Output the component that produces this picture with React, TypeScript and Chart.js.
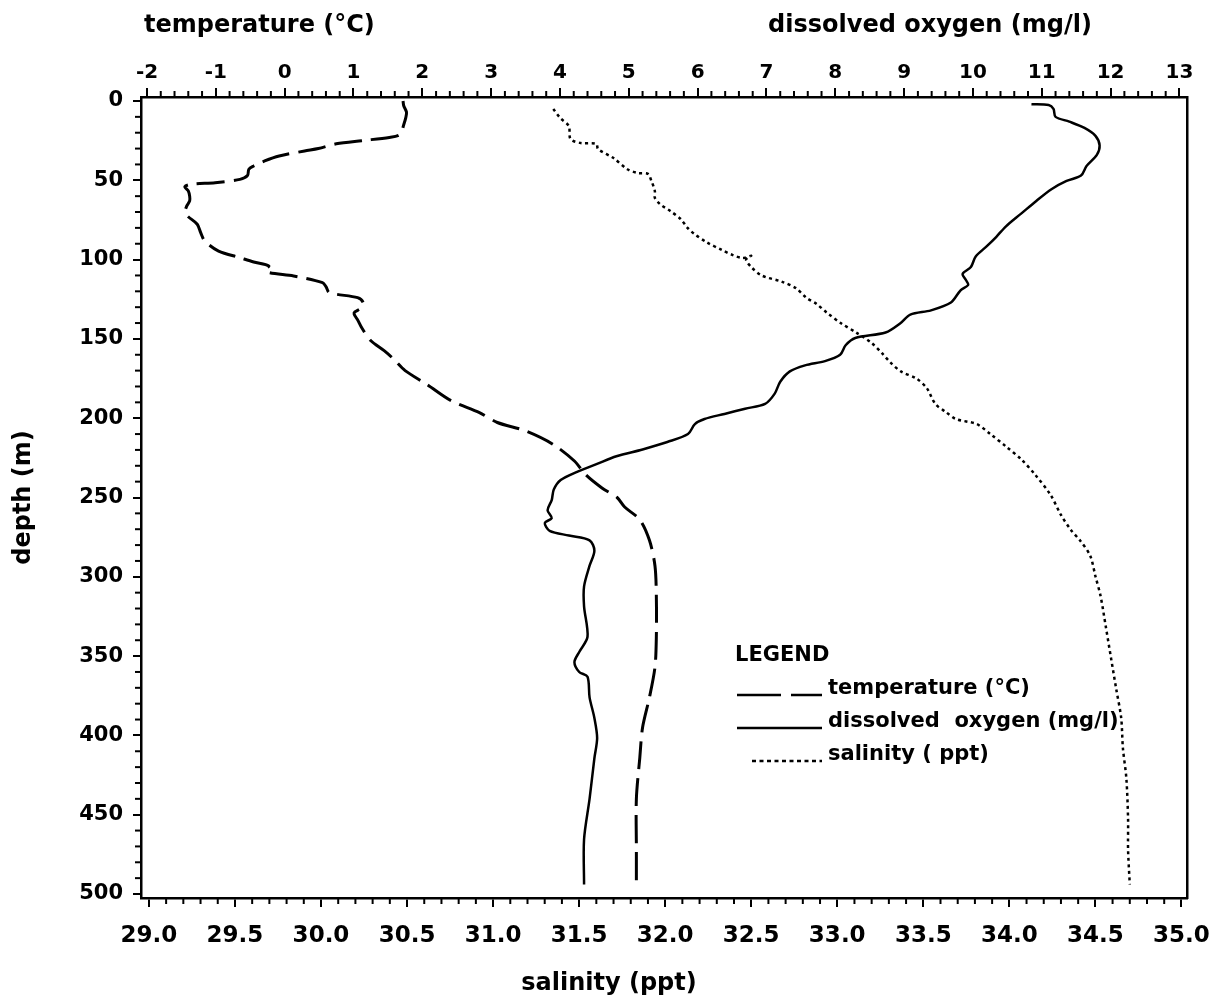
import React, { useEffect, useRef } from "react";
import { Chart, registerables } from "chart.js";

Chart.register(...registerables);

// ---- tick labels ----
const temperatureTicks = [-2, -1, 0, 1, 2, 3, 4, 5, 6, 7, 8, 9, 10, 11, 12, 13];
const salinityTicks = [29.0, 29.5, 30.0, 30.5, 31.0, 31.5, 32.0, 32.5, 33.0, 33.5, 34.0, 34.5, 35.0];
const depthTicks = [0, 50, 100, 150, 200, 250, 300, 350, 400, 450, 500];

// ---- temperature (°C) profile ----
const temperatureDepth = [
  0, 3, 7, 10.5, 15, 21, 23, 25, 27, 30, 31.5, 34.7, 37.8, 41, 43, 47, 49.4, 51.5, 52.5, 54,
  56.7, 60, 63, 66, 70.4, 73, 77.7, 83, 88.3, 94.6, 98.8, 101.5, 104, 106, 108.2, 110.3, 114.5,
  117, 120.8, 124, 127, 130.3, 133, 134.5, 138, 143, 151, 157.6, 163, 170, 178.5, 189, 196.5,
  202.7, 208, 216.5, 227, 235.5, 244, 250, 256, 264, 277, 293, 312, 338, 357, 376, 395, 414,
  440, 472, 494,
];
const temperatureValues = [
  1.72, 1.73, 1.77, 1.76, 1.73, 1.68, 1.52, 1.12, 0.75, 0.49, 0.29, -0.08, -0.29, -0.45, -0.52,
  -0.54, -0.65, -1.01, -1.35, -1.45, -1.40, -1.38, -1.38, -1.42, -1.45, -1.40, -1.27, -1.22,
  -1.16, -0.96, -0.65, -0.45, -0.23, -0.28, -0.23, 0.13, 0.55, 0.60, 0.65, 1.06, 1.14, 1.12,
  1.02, 1.01, 1.06, 1.12, 1.25, 1.45, 1.59, 1.75, 2.06, 2.42, 2.83, 3.09, 3.50, 3.90, 4.21,
  4.37, 4.61, 4.83, 4.94, 5.16, 5.30, 5.38, 5.40, 5.40, 5.38, 5.30, 5.20, 5.16, 5.11, 5.11, 5.11,
];

// ---- dissolved oxygen (mg/l) profile ----
const oxygenDepth = [
  2, 2.5, 5, 10, 13, 17, 22, 28, 34, 41, 47, 50.4, 55.6, 63, 71, 79, 85.6, 92, 98, 104.7, 109,
  113, 116, 119.4, 127, 132, 134.7, 140, 146, 149.4, 154, 160, 164, 166.7, 170.5, 177, 184.5,
  191, 194, 197.3, 200.5, 203.7, 210, 215, 219.7, 224, 229, 234, 239, 245, 251.6, 258, 263,
  266, 271, 274, 277, 283.5, 293, 306, 318.6, 337.8, 347.4, 353.8, 360, 363, 376, 389, 401.7,
  414.4, 440, 465.5, 494,
];
const oxygenValues = [
  10.85, 11.1, 11.17, 11.2, 11.4, 11.62, 11.78, 11.84, 11.8, 11.65, 11.57, 11.36, 11.14, 10.92,
  10.7, 10.48, 10.34, 10.19, 10.04, 9.97, 9.85, 9.9, 9.93, 9.82, 9.68, 9.39, 9.09, 8.95, 8.73,
  8.29, 8.15, 8.07, 7.85, 7.56, 7.34, 7.2, 7.12, 6.98, 6.69, 6.39, 6.1, 5.96, 5.86, 5.56, 5.2,
  4.82, 4.53, 4.24, 4.01, 3.91, 3.88, 3.82, 3.88, 3.78, 3.85, 4.13, 4.43, 4.5, 4.43, 4.35, 4.35,
  4.4, 4.28, 4.21, 4.28, 4.4, 4.43, 4.5, 4.54, 4.5, 4.43, 4.35, 4.35,
];

// ---- salinity (ppt) profile ----
const salinityDepth = [
  5, 10.7, 15.8, 24, 26.5, 27, 30.3, 36, 43, 45.4, 46, 50.4, 56.7, 61, 65, 69.4, 74.4, 80, 83.9,
  89, 94, 97, 99, 97.5, 100, 104.7, 110, 114, 118, 124, 128, 133.5, 140, 146, 152.6, 159, 165,
  170.5, 175, 181, 191, 196, 200.5, 203.7, 210, 217.8, 226, 235.6, 248.4, 261, 270.8, 277,
  286.7, 299.5, 312, 331, 350.6, 370, 389, 408, 427, 452.7, 472, 494,
];
const salinityValues = [
  31.35, 31.39, 31.44, 31.45, 31.51, 31.6, 31.61, 31.7, 31.78, 31.84, 31.9, 31.92, 31.94, 31.94,
  31.97, 32.03, 32.09, 32.13, 32.17, 32.24, 32.33, 32.39, 32.45, 32.5, 32.47, 32.5, 32.56, 32.68,
  32.76, 32.82, 32.88, 32.94, 33.02, 33.11, 33.2, 33.26, 33.31, 33.37, 33.46, 33.52, 33.57,
  33.63, 33.69, 33.81, 33.89, 33.98, 34.07, 34.15, 34.24, 34.3, 34.36, 34.41, 34.47, 34.5,
  34.53, 34.56, 34.59, 34.62, 34.65, 34.66, 34.68, 34.69, 34.69, 34.7,
];

const FONT = '"DejaVu Sans", "Liberation Sans", sans-serif';
const INK = "#000";

const TEMP_DASH = [28, 9];
const SAL_DASH = [3, 3.5];

export default function App() {
  const ref = useRef<HTMLCanvasElement | null>(null);

  useEffect(() => {
    document.body.style.margin = "0";
    const canvas = ref.current;
    if (!canvas) return;

    const pts = (vals: number[], depths: number[]) =>
      vals.map((v, i) => ({ x: v, y: depths[i] }));

    const minor: Record<string, { step: number; major: number }> = {
      xTop: { step: 0.2, major: 1 },
      xBottom: { step: 0.1, major: 0.5 },
      yLeft: { step: 10, major: 50 },
    };

    const minorTickPlugin = {
      id: "minorTicks",
      afterDraw(chart: any) {
        const { ctx, chartArea } = chart;
        ctx.save();
        ctx.strokeStyle = INK;
        ctx.lineWidth = 2;
        for (const id of Object.keys(minor)) {
          const s = chart.scales[id];
          const { step, major } = minor[id];
          const start = Math.ceil(s.min / step);
          const end = Math.floor(s.max / step);
          for (let k = start; k <= end; k++) {
            const v = k * step;
            const r = v / major;
            if (Math.abs(r - Math.round(r)) < 1e-6) continue;
            const p = s.getPixelForValue(v);
            ctx.beginPath();
            if (id === "xTop") {
              ctx.moveTo(p, chartArea.top);
              ctx.lineTo(p, chartArea.top - 6);
            } else if (id === "xBottom") {
              ctx.moveTo(p, chartArea.bottom);
              ctx.lineTo(p, chartArea.bottom + 6);
            } else {
              ctx.moveTo(chartArea.left, p);
              ctx.lineTo(chartArea.left - 6, p);
            }
            ctx.stroke();
          }
        }
        ctx.restore();
      },
    };

    const titlePlugin = {
      id: "titles",
      afterDraw(chart: any) {
        const { ctx, chartArea } = chart;
        ctx.save();
        ctx.fillStyle = INK;
        ctx.font = `bold 24px ${FONT}`;
        ctx.textBaseline = "middle";
        ctx.textAlign = "left";
        ctx.fillText("temperature (°C)", 144, 26);
        ctx.textAlign = "center";
        ctx.fillText("dissolved oxygen (mg/l)", 930, 26);
        ctx.fillText("salinity (ppt)", 609, 984);
        ctx.translate(24, (chartArea.top + chartArea.bottom) / 2);
        ctx.rotate(-Math.PI / 2);
        ctx.fillText("depth (m)", 0, 0);
        ctx.restore();
      },
    };

    const legendPlugin = {
      id: "customLegend",
      afterDraw(chart: any) {
        const { ctx } = chart;
        ctx.save();
        ctx.fillStyle = INK;
        ctx.strokeStyle = INK;
        ctx.textBaseline = "middle";
        ctx.textAlign = "left";
        ctx.font = `bold 21px ${FONT}`;
        ctx.fillText("LEGEND", 735, 656);
        const rows = [
          { y: 689, dash: [44, 10, 31, 200], label: "temperature (°C)", x0: 737 },
          { y: 722, dash: [], label: "dissolved  oxygen (mg/l)", x0: 737 },
          { y: 755, dash: [4, 3.5], label: "salinity ( ppt)", x0: 752 },
        ];
        for (const r of rows) {
          ctx.beginPath();
          ctx.setLineDash(r.dash);
          ctx.lineWidth = 2.5;
          ctx.moveTo(r.x0, r.y + 6);
          ctx.lineTo(822, r.y + 6);
          ctx.stroke();
          ctx.setLineDash([]);
          ctx.fillText(r.label, 828, r.y);
        }
        ctx.restore();
      },
    };

    const tickFont = (size: number) => ({ family: FONT, size, weight: "bold" as const });

    const chart = new Chart(canvas, {
      type: "line",
      data: {
        datasets: [
          {
            label: "temperature (°C)",
            data: pts(temperatureValues, temperatureDepth),
            xAxisID: "xTop",
            yAxisID: "yLeft",
            borderColor: INK,
            borderWidth: 3,
            borderDash: TEMP_DASH,
            pointRadius: 0,
            tension: 0.3,
            fill: false,
          },
          {
            label: "dissolved oxygen (mg/l)",
            data: pts(oxygenValues, oxygenDepth),
            xAxisID: "xTop",
            yAxisID: "yLeft",
            borderColor: INK,
            borderWidth: 2.5,
            pointRadius: 0,
            tension: 0.3,
            fill: false,
          },
          {
            label: "salinity (ppt)",
            data: pts(salinityValues, salinityDepth),
            xAxisID: "xBottom",
            yAxisID: "yLeft",
            borderColor: INK,
            borderWidth: 2.5,
            borderDash: SAL_DASH,
            pointRadius: 0,
            tension: 0.3,
            fill: false,
          },
        ],
      },
      options: {
        animation: false,
        responsive: false,
        maintainAspectRatio: false,
        layout: { padding: 0 },
        plugins: {
          legend: { display: false },
          tooltip: { enabled: false },
        },
        scales: {
          xTop: {
            type: "linear",
            axis: "x",
            position: "top",
            min: -2.087,
            max: 13.116,
            afterBuildTicks: (s: any) => {
              s.ticks = temperatureTicks.map((v) => ({ value: v }));
            },
            afterFit: (s: any) => {
              s.height = 97;
            },
            ticks: {
              autoSkip: false,
              maxRotation: 0,
              color: INK,
              font: tickFont(20),
              padding: 3,
              callback: (v: any) => String(v),
            },
            grid: { drawOnChartArea: false, drawTicks: true, tickLength: 9, color: INK, lineWidth: 2 },
            border: { display: true, color: INK, width: 2.5 },
          },
          xBottom: {
            type: "linear",
            axis: "x",
            position: "bottom",
            min: 28.954,
            max: 35.035,
            afterBuildTicks: (s: any) => {
              s.ticks = salinityTicks.map((v) => ({ value: v }));
            },
            afterFit: (s: any) => {
              s.height = 109;
            },
            ticks: {
              autoSkip: false,
              maxRotation: 0,
              color: INK,
              font: tickFont(23),
              padding: 15,
              callback: (v: any) => Number(v).toFixed(1),
            },
            grid: { drawOnChartArea: false, drawTicks: true, tickLength: 9, color: INK, lineWidth: 2 },
            border: { display: true, color: INK, width: 2.5 },
          },
          yLeft: {
            type: "linear",
            axis: "y",
            position: "left",
            reverse: true,
            min: -2.52,
            max: 502.52,
            afterBuildTicks: (s: any) => {
              s.ticks = depthTicks.map((v) => ({ value: v }));
            },
            afterFit: (s: any) => {
              s.width = 141;
            },
            ticks: {
              autoSkip: false,
              color: INK,
              font: tickFont(21),
              padding: 10,
              callback: (v: any) => String(v),
            },
            grid: { drawOnChartArea: false, drawTicks: true, tickLength: 8, color: INK, lineWidth: 2 },
            border: { display: true, color: INK, width: 2.5 },
          },
          yRight: {
            type: "linear",
            axis: "y",
            position: "right",
            reverse: true,
            min: -2.52,
            max: 502.52,
            afterFit: (s: any) => {
              s.width = 35;
            },
            ticks: { display: false },
            grid: { display: false, drawTicks: false },
            border: { display: true, color: INK, width: 2.5 },
          },
        },
      },
      plugins: [minorTickPlugin, titlePlugin, legendPlugin],
    } as any);

    return () => {
      chart.destroy();
    };
  }, []);

  return (
    <div style={{ width: 1225, height: 1007, background: "#fff" }}>
      <canvas ref={ref} width={1225} height={1007} style={{ display: "block" }} />
    </div>
  );
}
